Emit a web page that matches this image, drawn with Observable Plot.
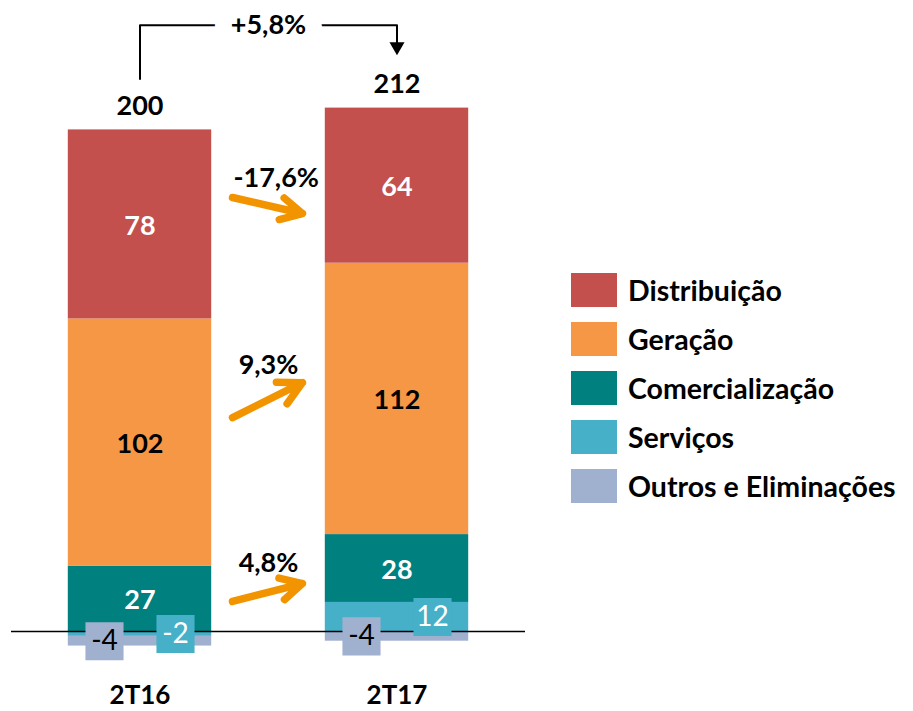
<!DOCTYPE html>
<html><head><meta charset="utf-8">
<script src="https://cdn.jsdelivr.net/npm/d3@7"></script>
<script src="https://cdn.jsdelivr.net/npm/@observablehq/plot@0.6"></script>
<style>
body{margin:0;background:#fff;font-family:Lato, sans-serif;}
#wrap{position:relative;width:913px;height:711px;}
#legend{position:absolute;left:571px;top:273px;}
.item{display:flex;align-items:center;height:34px;margin-bottom:15px;}
.sw{width:46px;height:34px;margin-right:11px;flex:none;}
.lb{font-weight:700;font-size:28.5px;color:#000;white-space:nowrap;}
</style></head><body><div id="wrap"><div id="legend"></div></div>
<script>
const periods = ["2T16", "2T17"];
const categories = ["Distribuição", "Geração", "Comercialização", "Serviços", "Outros e Eliminações"];
const distribuicao = [78, 64];
const geracao = [102, 112];
const comercializacao = [27, 28];
const servicos = [-2, 12];
const outros = [-4, -4];
const totals = [200, 212];
const totalChange = "+5,8%";
const changeLabels = ["-17,6%", "9,3%", "4,8%"];
const arrowFrom = [179.1, 88.3, 12.4];
const arrowTo = [172.5, 102.7, 19.8];
const changeLabelY = [186.9, 109.8, 28.1];
const colors = ["#C3504D", "#F69746", "#00807F", "#45B0C8", "#A0B0CF"];

const seriesValues = {
  "Distribuição": distribuicao,
  "Geração": geracao,
  "Comercialização": comercializacao,
  "Serviços": servicos,
  "Outros e Eliminações": outros
};
const stackOrder = ["Serviços", "Outros e Eliminações", "Comercialização", "Geração", "Distribuição"];

// stack segments (positive up, negative down)
const rows = [];
const posTop = [];
periods.forEach((p, i) => {
  let pos = 0, neg = 0;
  stackOrder.forEach(cat => {
    const v = seriesValues[cat][i];
    let y1, y2;
    if (v >= 0) { y1 = pos; pos += v; y2 = pos; } else { y1 = neg; neg += v; y2 = neg; }
    rows.push({period: p, i, cat, value: v, y1, y2, mid: (y1 + y2) / 2});
  });
  posTop.push(pos);
});

const hw = 0.279;
const font = "Lato";
const big = {fontFamily: font, fontSize: 27, fontWeight: "bold"};

const bracketTop = 250.2;
const bracket = [
  {x: 0, y: posTop[0] + 21},
  {x: 0, y: bracketTop},
  {x: 1, y: bracketTop},
  {x: 1, y: posTop[1] + 25.4}
];

const main = rows.filter(d => ["Distribuição", "Geração", "Comercialização"].includes(d.cat));
const serv = rows.filter(d => d.cat === "Serviços");
const outr = rows.filter(d => d.cat === "Outros e Eliminações");

const arrows = changeLabels.map((label, k) => ({label, y1: arrowFrom[k], y2: arrowTo[k], ly: changeLabelY[k], lx: k === 0 ? 0.53 : 0.5}));

const chart = Plot.plot({
  width: 913, height: 711,
  marginLeft: 11, marginRight: 388, marginTop: 0, marginBottom: 40,
  x: {domain: [-0.5, 1.5], axis: null},
  y: {domain: [-16.5, 260.4], axis: null},
  color: {domain: categories, range: colors},
  style: {fontFamily: font, background: "#fff", color: "#000"},
  marks: [
    Plot.rectY(rows, {x1: d => d.i - hw, x2: d => d.i + hw, y1: "y1", y2: "y2", fill: "cat"}),
    Plot.ruleY([0], {stroke: "#000", strokeWidth: 1.6}),
    Plot.text(main.filter(d => d.cat !== "Geração"), {x: "i", y: "mid", dy: 1.5, text: d => String(d.value), fill: "#fff", ...big}),
    Plot.text(main.filter(d => d.cat === "Geração"), {x: "i", y: "mid", dy: 1.5, text: d => String(d.value), fill: "#000", ...big}),
    Plot.dot(outr, {x: "i", y: "mid", dx: -35.5, symbol: "square", r: 21.5, fill: "cat"}),
    Plot.text(outr, {x: "i", y: "mid", dx: -35.5, text: d => String(d.value), fill: "#000", fontFamily: font, fontSize: 28}),
    Plot.dot(serv, {x: "i", y: "mid", dx: 35.5, symbol: "square", r: 21.5, fill: "cat"}),
    Plot.text(serv, {x: "i", y: "mid", dx: 35.5, text: d => String(d.value), fill: "#fff", fontFamily: font, fontSize: 28}),
    Plot.text(periods, {x: (d, i) => i, y: (d, i) => posTop[i], text: (d, i) => String(totals[i]), dy: -24, fill: "#000", ...big}),
    Plot.text(periods, {x: (d, i) => i, frameAnchor: "bottom", lineAnchor: "middle", dy: 24, text: d => d, fill: "#000", fontFamily: font, fontSize: 26, fontWeight: "bold"}),
    Plot.line(bracket, {x: "x", y: "y", stroke: "#000", strokeWidth: 2}),
    Plot.dot([bracket[3]], {x: "x", y: "y", symbol: "triangle", r: 5.6, rotate: 180, fill: "#000"}),
    Plot.text([totalChange], {x: 0.5, y: bracketTop, text: d => d, fill: "#000", stroke: "#fff", strokeWidth: 34, ...big}),
    Plot.arrow(arrows, {x1: 0.36, x2: 0.632, y1: "y1", y2: "y2", stroke: "#F29400", strokeWidth: 7.5, headAngle: 55, headLength: 8, strokeLinecap: "round", strokeLinejoin: "round"}),
    Plot.text(arrows, {x: "lx", y: "ly", text: "label", fill: "#000", ...big})
  ]
});
document.getElementById("wrap").prepend(chart);

const legend = document.getElementById("legend");
categories.forEach((c, k) => {
  const item = document.createElement("div");
  item.className = "item";
  const sw = document.createElement("div");
  sw.className = "sw";
  sw.style.background = colors[k];
  const lb = document.createElement("span");
  lb.className = "lb";
  lb.textContent = c;
  item.append(sw, lb);
  legend.append(item);
});
</script>
</body></html>
